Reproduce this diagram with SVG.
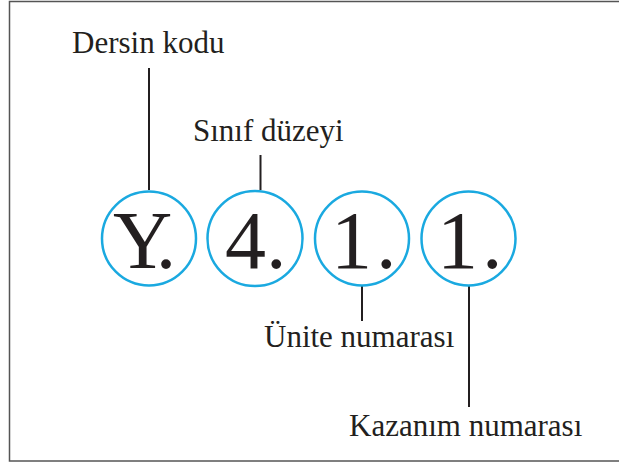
<svg xmlns="http://www.w3.org/2000/svg" width="619" height="463" viewBox="0 0 619 463">
<style>
.lbl{font-family:"Liberation Serif","Times New Roman",serif;font-size:31px;fill:#231f20}
.big{font-family:"Liberation Serif","Times New Roman",serif;font-size:82px;fill:#231f20}
.ring{fill:none;stroke:#1aa9e0;stroke-width:2.5}
.con{stroke:#231f20;stroke-width:2;fill:none}
</style>
<rect x="9.5" y="1.5" width="620" height="459.5" fill="#fff" stroke="#555" stroke-width="1.5"/>
<g id="connectors">
<line class="con" x1="149" y1="68" x2="149" y2="190"/>
<line class="con" x1="260.5" y1="155" x2="260.5" y2="190"/>
<line class="con" x1="362" y1="286" x2="362" y2="321"/>
<line class="con" x1="469" y1="286" x2="469" y2="407"/>
</g>
<g id="n-y"><circle class="ring" cx="149" cy="238.5" r="47"/><text class="big" x="113" y="268" letter-spacing="-6">Y.</text></g>
<g id="n-4"><circle class="ring" cx="255" cy="238.5" r="47.5"/><text class="big" x="225" y="268">4.</text></g>
<g id="n-1a"><circle class="ring" cx="362" cy="238.5" r="47"/><text class="big" x="331" y="268" letter-spacing="4">1.</text></g>
<g id="n-1b"><circle class="ring" cx="468.5" cy="238.5" r="47"/><text class="big" x="437" y="268" letter-spacing="4">1.</text></g>
<g id="l-dersin"><text class="lbl" x="72" y="53">Dersin kodu</text></g>
<g id="l-sinif"><text class="lbl" x="193" y="141">Sınıf düzeyi</text></g>
<g id="l-unite"><text class="lbl" x="264" y="347">Ünite numarası</text></g>
<g id="l-kazanim"><text class="lbl" x="349" y="436">Kazanım numarası</text></g>
</svg>
